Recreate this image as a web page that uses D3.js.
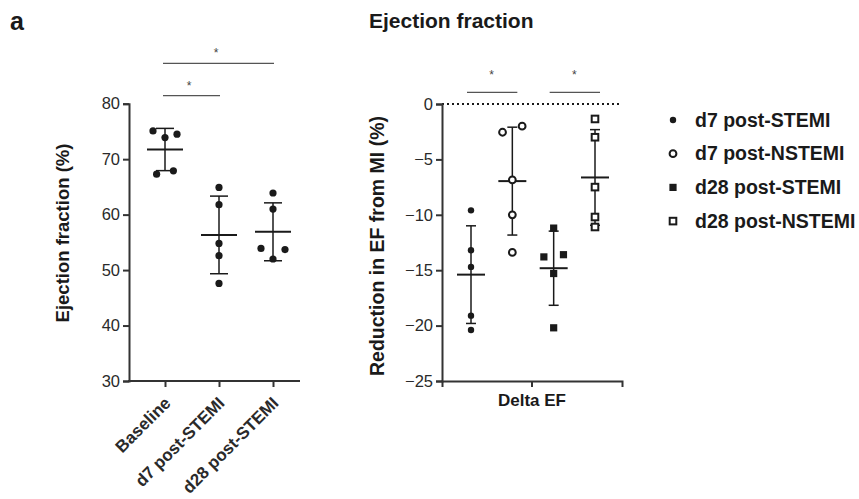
<!DOCTYPE html>
<html>
<head>
<meta charset="utf-8">
<script src="https://cdn.jsdelivr.net/npm/d3@7"></script>
<style>
  body { margin: 0; background: #fff; }
  svg { font-family: "Liberation Sans", Arial, sans-serif; }
</style>
</head>
<body>
<div id="chart"></div>
<script>
// left panel: absolute EF
const leftGroups = ["Baseline", "d7 post-STEMI", "d28 post-STEMI"];
const baselineEF = [75.1, 74.5, 73.9, 67.9, 67.3];
const d7StemiEF = [64.9, 61.8, 54.8, 52.6, 47.6];
const d28StemiEF = [63.9, 61.0, 53.9, 53.7, 52.0];
const leftTicks = [30, 40, 50, 60, 70, 80];
const leftSig = [["Baseline", "d28 post-STEMI"], ["Baseline", "d7 post-STEMI"]];

// right panel: change in EF from MI
const rightGroups = ["d7 post-STEMI", "d7 post-NSTEMI", "d28 post-STEMI", "d28 post-NSTEMI"];
const d7StemiDelta = [-9.6, -13.2, -14.7, -19.1, -20.4];
const d7NstemiDelta = [-2.0, -2.55, -6.85, -10.0, -13.4];
const d28StemiDelta = [-11.2, -13.6, -13.8, -15.3, -20.2];
const d28NstemiDelta = [-1.35, -3.0, -7.5, -10.2, -11.1];
const rightTicks = [-25, -20, -15, -10, -5, 0];
const rightCategory = ["Delta EF"];
const rightSig = [["d7 post-STEMI", "d7 post-NSTEMI"], ["d28 post-STEMI", "d28 post-NSTEMI"]];

const leftValues = [baselineEF, d7StemiEF, d28StemiEF];
const rightValues = [d7StemiDelta, d7NstemiDelta, d28StemiDelta, d28NstemiDelta];
const rightShapes = ["dot", "circle", "square", "box"];

const width = 859, height = 499;
const ink = "#1a1a1a";
const axisColor = "#333";

const svg = d3.select("#chart").append("svg")
    .attr("width", width)
    .attr("height", height);

// Prism-like spreading of points that sit too close together
function spread(values, y, gap, s) {
    const sorted = values.slice().sort((a, b) => b - a);
    const clusters = [];
    sorted.forEach(v => {
        const last = clusters[clusters.length - 1];
        if (last && Math.abs(y(v) - y(last[last.length - 1])) < gap) last.push(v);
        else clusters.push([v]);
    });
    const out = [];
    clusters.forEach(c => {
        let offs = [0];
        if (c.length === 2) offs = [s * 0.7, -s * 0.7];
        if (c.length === 3) offs = [-s, s, 0];
        if (c.length > 3) offs = c.map((d, i) => (i - (c.length - 1) / 2) * s);
        c.forEach((v, i) => out.push({v, dx: offs[i]}));
    });
    return out;
}

function drawShape(g, shape, cx, cy, r) {
    if (shape === "dot") {
        g.append("circle").attr("cx", cx).attr("cy", cy).attr("r", r || 3.2).attr("fill", ink);
    } else if (shape === "circle") {
        g.append("circle").attr("cx", cx).attr("cy", cy).attr("r", 3.4)
            .attr("fill", "#fff").attr("stroke", ink).attr("stroke-width", 2);
    } else if (shape === "square") {
        g.append("rect").attr("x", cx - 3.6).attr("y", cy - 3.6).attr("width", 7.2).attr("height", 7.2).attr("fill", ink);
    } else {
        g.append("rect").attr("x", cx - 3.3).attr("y", cy - 3.3).attr("width", 6.6).attr("height", 6.6)
            .attr("fill", "#fff").attr("stroke", ink).attr("stroke-width", 2);
    }
}

function styleAxis(g) {
    g.selectAll(".domain").attr("stroke", axisColor).attr("stroke-width", 2);
    g.selectAll(".tick line").attr("stroke", axisColor).attr("stroke-width", 2);
    g.selectAll(".tick text").attr("fill", "#2a2a2a").attr("font-size", 16.5);
}

function drawErrorBars(g, cx, values, y, capW, meanW) {
    const m = d3.mean(values), sd = d3.deviation(values);
    g.append("line").attr("x1", cx).attr("x2", cx)
        .attr("y1", y(m + sd)).attr("y2", y(m - sd))
        .attr("stroke", ink).attr("stroke-width", 1.5);
    [m + sd, m - sd].forEach(v => {
        g.append("line").attr("x1", cx - capW).attr("x2", cx + capW)
            .attr("y1", y(v)).attr("y2", y(v))
            .attr("stroke", ink).attr("stroke-width", 1.5);
    });
    g.append("line").attr("x1", cx - meanW).attr("x2", cx + meanW)
        .attr("y1", y(m)).attr("y2", y(m))
        .attr("stroke", ink).attr("stroke-width", 2);
}

// panel letter and title
svg.append("text").attr("x", 10).attr("y", 30)
    .attr("font-size", 25).attr("font-weight", "bold").attr("fill", ink).text("a");
svg.append("text").attr("x", 369).attr("y", 28)
    .attr("font-size", 21).attr("font-weight", "bold").attr("fill", ink).text("Ejection fraction");

// ---------- left panel ----------
const L = {left: 129, right: 300, top: 103.7, bottom: 381};
const yL = d3.scaleLinear().domain([30, 80]).range([L.bottom, L.top]);
const xL = d3.scalePoint().domain(leftGroups).range([165, 273]);

const gL = svg.append("g");
gL.append("g").attr("transform", `translate(${L.left},0)`)
    .call(d3.axisLeft(yL).tickValues(leftTicks).tickSizeOuter(0).tickSize(6).tickPadding(3))
    .call(styleAxis);
gL.append("g").attr("transform", `translate(0,${L.bottom})`)
    .call(d3.axisBottom(xL).tickSizeOuter(0).tickSize(6))
    .call(styleAxis)
    .call(g => g.select(".domain").remove())
    .call(g => g.selectAll(".tick text")
        .attr("font-weight", "bold").attr("font-size", 17)
        .attr("text-anchor", "end")
        .attr("x", 0).attr("y", 0).attr("dy", "0.35em")
        .attr("transform", "translate(2,19) rotate(-45)"));
gL.append("line").attr("x1", L.left - 1).attr("x2", L.right)
    .attr("y1", L.bottom).attr("y2", L.bottom)
    .attr("stroke", axisColor).attr("stroke-width", 2);

gL.append("text")
    .attr("transform", `translate(69,233) rotate(-90)`)
    .attr("text-anchor", "middle").attr("font-size", 18.5).attr("font-weight", "bold")
    .attr("fill", ink).text("Ejection fraction (%)");

leftGroups.forEach((grp, i) => {
    const cx = xL(grp);
    drawErrorBars(gL, cx, leftValues[i], yL, 9, 18);
    spread(leftValues[i], yL, 9.5, 12).forEach(p => drawShape(gL, "dot", cx + p.dx, yL(p.v), 3.6));
});

leftSig.forEach(([a, b], i) => {
    const row = leftSig.length - 1 - i;
    const yy = L.top - 8 - row * 32.4;
    gL.append("line").attr("x1", xL(a) - 2).attr("x2", xL(b) + 1)
        .attr("y1", yy).attr("y2", yy)
        .attr("stroke", "#555").attr("stroke-width", 1.3);
    gL.append("text").attr("x", (xL(a) + xL(b)) / 2 - 3).attr("y", yy - 6)
        .attr("text-anchor", "middle").attr("font-size", 12).attr("fill", "#444").text("*");
});

// ---------- right panel ----------
const R = {left: 442, right: 622, top: 104, bottom: 381};
const yR = d3.scaleLinear().domain([-25, 0]).range([R.bottom, R.top]);
const xR = d3.scalePoint().domain(rightGroups).range([471, 595]);
const xCat = d3.scaleBand().domain(rightCategory).range([R.left, R.right]);

const gR = svg.append("g");
gR.append("line").attr("x1", R.left).attr("x2", R.right)
    .attr("y1", yR(0)).attr("y2", yR(0))
    .attr("stroke", ink).attr("stroke-width", 2).attr("stroke-dasharray", "2,3");
gR.append("g").attr("transform", `translate(${R.left},0)`)
    .call(d3.axisLeft(yR).tickValues(rightTicks).tickSizeOuter(0).tickSize(6).tickPadding(3))
    .call(styleAxis);
gR.append("g").attr("transform", `translate(0,${R.bottom})`)
    .call(d3.axisBottom(xCat).tickSizeOuter(0).tickSize(6).tickPadding(7))
    .call(styleAxis)
    .call(g => g.selectAll(".tick text").attr("font-weight", "bold").attr("font-size", 17).attr("fill", ink));

gR.append("text")
    .attr("transform", `translate(384,246) rotate(-90)`)
    .attr("text-anchor", "middle").attr("font-size", 19.5).attr("font-weight", "bold")
    .attr("fill", ink).text("Reduction in EF from MI (%)");

rightGroups.forEach((grp, i) => {
    const cx = xR(grp);
    drawErrorBars(gR, cx, rightValues[i], yR, 5, 14);
    spread(rightValues[i], yR, 9.5, 14).forEach(p => drawShape(gR, rightShapes[i], cx + p.dx, yR(p.v)));
});

rightSig.forEach(([a, b]) => {
    const yy = R.top - 11.7;
    gR.append("line").attr("x1", xR(a) - 4).attr("x2", xR(b) + 5)
        .attr("y1", yy).attr("y2", yy)
        .attr("stroke", "#555").attr("stroke-width", 1.3);
    gR.append("text").attr("x", (xR(a) + xR(b)) / 2).attr("y", yy - 13)
        .attr("text-anchor", "middle").attr("font-size", 12).attr("fill", "#444").text("*");
});

// ---------- legend ----------
const legend = svg.append("g").attr("transform", "translate(673,120)");
rightGroups.forEach((grp, i) => {
    const ly = i * 33.7;
    drawShape(legend, rightShapes[i], 0, ly);
    legend.append("text").attr("x", 22).attr("y", ly + 6.5)
        .attr("font-size", 19.5).attr("font-weight", "bold").attr("fill", ink).text(grp);
});
</script>
</body>
</html>
